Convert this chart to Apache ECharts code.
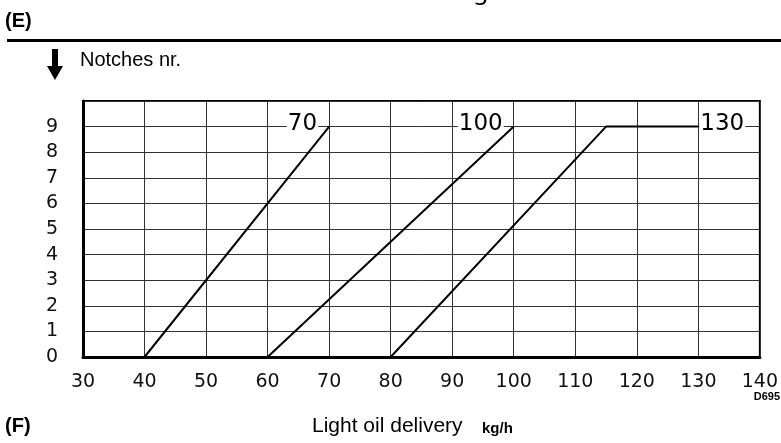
<!DOCTYPE html>
<html>
<head>
<meta charset="utf-8">
<script src="https://cdn.jsdelivr.net/npm/echarts@6/dist/echarts.min.js"></script>
<style>
  html, body { margin: 0; padding: 0; background: #fff; }
  #chart { width: 781px; height: 443px; }
</style>
</head>
<body>
<div id="chart"></div>
<script>
// notch curves: light oil delivery (kg/h) vs notches nr.
const curve70 = [[40, 0], [70, 9]];
const curve100 = [[60, 0], [100, 9]];
const curve130 = [[80, 0], [115, 9], [130, 9]];
const curveNames = ['70', '100', '130'];

const xTicks = { min: 30, max: 140, step: 10 };
const yTicks = { min: 0, max: 10, step: 1 };

var chart = echarts.init(document.getElementById('chart'), null, { renderer: 'canvas' });

function curveSeries(name, data) {
  return {
    name: name,
    type: 'line',
    data: data,
    symbol: 'none',
    silent: true,
    z: 3,
    lineStyle: { color: '#000', width: 2 }
  };
}

// name tag sits at the end of each curve, on a white patch over the grid
function tagSeries(name, data, pos, dist) {
  let last = data[data.length - 1];
  return {
    type: 'scatter',
    data: [last],
    symbolSize: 0,
    silent: true,
    z: 5,
    itemStyle: { opacity: 1 },
    label: {
      show: true,
      formatter: name,
      position: pos,
      distance: dist,
      offset: [0, -3],
      color: '#000',
      fontFamily: 'DejaVu Sans',
      fontSize: 23,
      backgroundColor: '#fff',
      padding: [0, 1]
    }
  };
}

var option = {
  backgroundColor: '#fff',
  animation: false,
  grid: {
    left: 83, right: 19, top: 101, bottom: 86,
    show: true, borderColor: '#000', borderWidth: 2
  },
  xAxis: {
    type: 'value',
    min: xTicks.min, max: xTicks.max, interval: xTicks.step,
    axisLine: { show: true, lineStyle: { color: '#000', width: 3 } },
    axisTick: { show: false },
    splitLine: { show: true, lineStyle: { color: '#333', width: 1 } },
    axisLabel: {
      margin: 16, color: '#111', fontFamily: 'DejaVu Sans', fontSize: 19
    }
  },
  yAxis: {
    type: 'value',
    min: yTicks.min, max: yTicks.max, interval: yTicks.step,
    axisLine: { show: true, lineStyle: { color: '#000', width: 3 } },
    axisTick: { show: false },
    splitLine: { show: true, lineStyle: { color: '#333', width: 1 } },
    axisLabel: {
      margin: 25, color: '#111', fontFamily: 'DejaVu Sans', fontSize: 19,
      formatter: function (v) { return v >= yTicks.max ? '' : String(v); }
    }
  },
  series: [
    curveSeries(curveNames[0], curve70),
    curveSeries(curveNames[1], curve100),
    curveSeries(curveNames[2], curve130),
    tagSeries(curveNames[0], curve70, 'left', 11),
    tagSeries(curveNames[1], curve100, 'left', 10),
    tagSeries(curveNames[2], curve130, 'right', 1)
  ],
  graphic: [
    { type: 'text', left: 5, top: 11, style: { text: '(E)', font: 'bold 20px "Liberation Sans"', fill: '#000' } },
    { type: 'rect', shape: { x: 7, y: 39, width: 774, height: 3 }, style: { fill: '#000' } },
    { type: 'text', left: 474, top: -12, style: { text: '3', font: '22px "DejaVu Sans"', fill: '#000' } },
    { type: 'rect', shape: { x: 52, y: 49, width: 6, height: 18 }, style: { fill: '#000' } },
    { type: 'polygon', shape: { points: [[47, 66], [63, 66], [55, 80]] }, style: { fill: '#000' } },
    { type: 'text', left: 80, top: 50, style: { text: 'Notches nr.', font: '20px "Liberation Sans"', fill: '#000' } },
    { type: 'text', right: 1, top: 391, style: { text: 'D695', font: 'bold 11px "Liberation Sans"', fill: '#000' } },
    { type: 'text', left: 5, top: 416, style: { text: '(F)', font: 'bold 20px "Liberation Sans"', fill: '#000' } },
    { type: 'text', left: 312, top: 416, style: { text: 'Light oil delivery', font: '21px "Liberation Sans"', fill: '#000' } },
    { type: 'text', left: 482, top: 421, style: { text: 'kg/h', font: 'bold 15px "Liberation Sans"', fill: '#000' } }
  ]
};

chart.setOption(option);
</script>
</body>
</html>
